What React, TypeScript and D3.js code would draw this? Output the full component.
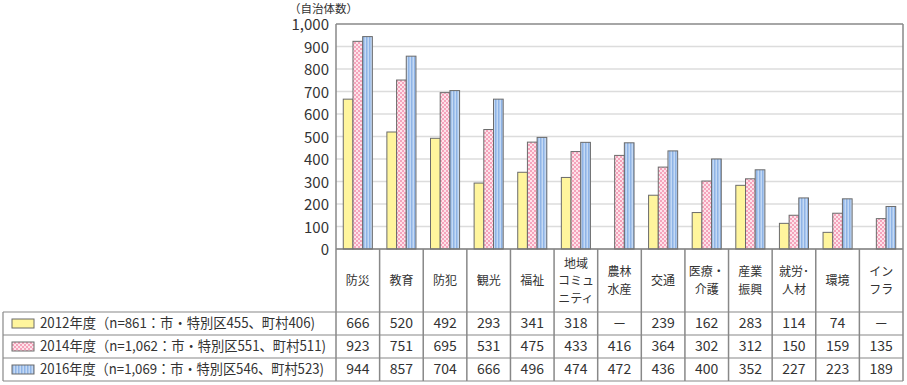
import React from 'react';
import * as d3 from 'd3';

const categories: string[][] = [
  ['防災'], ['教育'], ['防犯'], ['観光'], ['福祉'], ['地域', 'コミュ', 'ニティ'],
  ['農林', '水産'], ['交通'], ['医療・', '介護'], ['産業', '振興'], ['就労･', '人材'], ['環境'], ['イン', 'フラ'],
];

const seriesNames = [
  '2012年度（n=861：市・特別区455、町村406)',
  '2014年度（n=1,062：市・特別区551、町村511)',
  '2016年度（n=1,069：市・特別区546、町村523)',
];
const seriesNameWidths = [275, 286, 284];

const values2012: (number | null)[] = [666, 520, 492, 293, 341, 318, null, 239, 162, 283, 114, 74, null];
const values2014: (number | null)[] = [923, 751, 695, 531, 475, 433, 416, 364, 302, 312, 150, 159, 135];
const values2016: (number | null)[] = [944, 857, 704, 666, 496, 474, 472, 436, 400, 352, 227, 223, 189];

const yTicks = [0, 100, 200, 300, 400, 500, 600, 700, 800, 900, 1000];

const fills = ['#fff59d', 'url(#pinkCheck)', 'url(#blueStripe)'];

const W = 907;
const H = 385;
const plot = { left: 336, right: 903, top: 24, bottom: 249 };
const table = { left: 3, top: 312, rowH: 23, bottom: 381 };
const font = '"Noto Sans CJK JP", "Noto Sans", sans-serif';

export default function App() {
  const allSeries = [values2012, values2014, values2016];
  const idx = categories.map((_, i) => String(i));

  const x = d3.scaleBand<string>().domain(idx).range([plot.left, plot.right]).padding(0);
  const xInner = d3.scaleBand<string>()
    .domain(['0', '1', '2'])
    .range([0, x.bandwidth()])
    .paddingInner(0)
    .paddingOuter(0.75);
  const y = d3.scaleLinear().domain([0, 1000]).range([plot.bottom, plot.top]);

  const boundaries = idx.map(i => x(i)!).concat([plot.right]);

  return (
    <div style={{ position: 'absolute', left: 0, top: 0 }}>
      <svg width={W} height={H} style={{ display: 'block', fontFamily: font }}>
        <defs>
          <pattern id="pinkCheck" width="4" height="4" patternUnits="userSpaceOnUse">
            <rect width="4" height="4" fill="#fde3ea" />
            <rect width="2" height="2" fill="#f5a3bb" />
            <rect x="2" y="2" width="2" height="2" fill="#f5a3bb" />
          </pattern>
          <pattern id="blueStripe" width="3" height="4" patternUnits="userSpaceOnUse">
            <rect width="3" height="4" fill="#c4d9f4" />
            <rect width="1.5" height="4" fill="#8fb4e6" />
          </pattern>
        </defs>
        <rect width={W} height={H} fill="#fff" />

        {/* グリッド */}
        {yTicks.filter(t => t > 0 && t < 1000).map(t => (
          <line key={t} x1={plot.left} x2={plot.right} y1={y(t)} y2={y(t)} stroke="#dcdcdc" strokeWidth={1.5} />
        ))}

        {/* 目盛ラベル */}
        {yTicks.map(t => (
          <text key={t} x={329} y={y(t) + 1} dy="0.35em" textAnchor="end" fontSize={15} fill="#333">
            {d3.format(',')(t)}
          </text>
        ))}
        <text x={289} y={9} dy="0.35em" fontSize={11.5} fill="#333">（自治体数）</text>

        {/* 棒 */}
        {allSeries.map((vals, s) =>
          vals.map((v, i) =>
            v == null ? null : (
              <rect
                key={`${s}-${i}`}
                x={x(String(i))! + xInner(String(s))!}
                y={y(v)}
                width={xInner.bandwidth()}
                height={plot.bottom - y(v)}
                fill={fills[s]}
                stroke="#6b6b6b"
                strokeWidth={1}
              />
            )
          )
        )}

        {/* 枠 */}
        <line x1={plot.left} x2={plot.right} y1={plot.top} y2={plot.top} stroke="#888" strokeWidth={1.5} />
        <line x1={plot.left} x2={plot.right} y1={plot.bottom} y2={plot.bottom} stroke="#777" strokeWidth={1.5} />
        {boundaries.map((b, i) => (
          <line
            key={i}
            x1={b} x2={b}
            y1={i === 0 || i === boundaries.length - 1 ? plot.top : plot.bottom}
            y2={table.bottom}
            stroke="#888"
            strokeWidth={1.5}
          />
        ))}

        {/* カテゴリ名 */}
        {categories.map((lines, i) => {
          const cx = x(String(i))! + x.bandwidth() / 2;
          const lh = 17.5;
          const y0 = 281 - ((lines.length - 1) * lh) / 2;
          return (
            <text key={i} textAnchor="middle" fontSize={12} fill="#333">
              {lines.map((l, k) => (
                <tspan key={k} x={cx} y={y0 + k * lh} dy="0.35em">{l}</tspan>
              ))}
            </text>
          );
        })}

        {/* 表 */}
        {[0, 1, 2, 3].map(r => (
          <line
            key={r}
            x1={table.left} x2={plot.right}
            y1={table.top + r * table.rowH} y2={table.top + r * table.rowH}
            stroke="#888" strokeWidth={1.2}
          />
        ))}
        <line x1={table.left} x2={table.left} y1={table.top} y2={table.bottom} stroke="#888" strokeWidth={1.2} />

        {seriesNames.map((name, s) => {
          const cy = table.top + s * table.rowH + table.rowH / 2;
          return (
            <g key={s}>
              <rect x={12} y={cy - 4.5} width={22} height={9} fill={fills[s]} stroke="#6b6b6b" strokeWidth={1} />
              <text
                x={40}
                y={cy}
                dy="0.35em"
                fontSize={14}
                fill="#333"
                textLength={seriesNameWidths[s]}
                lengthAdjust="spacingAndGlyphs"
              >
                {name}
              </text>
              {allSeries[s].map((v, i) => (
                <text
                  key={i}
                  x={x(String(i))! + x.bandwidth() / 2}
                  y={cy}
                  dy="0.35em"
                  textAnchor="middle"
                  fontSize={14}
                  fill="#333"
                >
                  {v == null ? '－' : v}
                </text>
              ))}
            </g>
          );
        })}
      </svg>
    </div>
  );
}
